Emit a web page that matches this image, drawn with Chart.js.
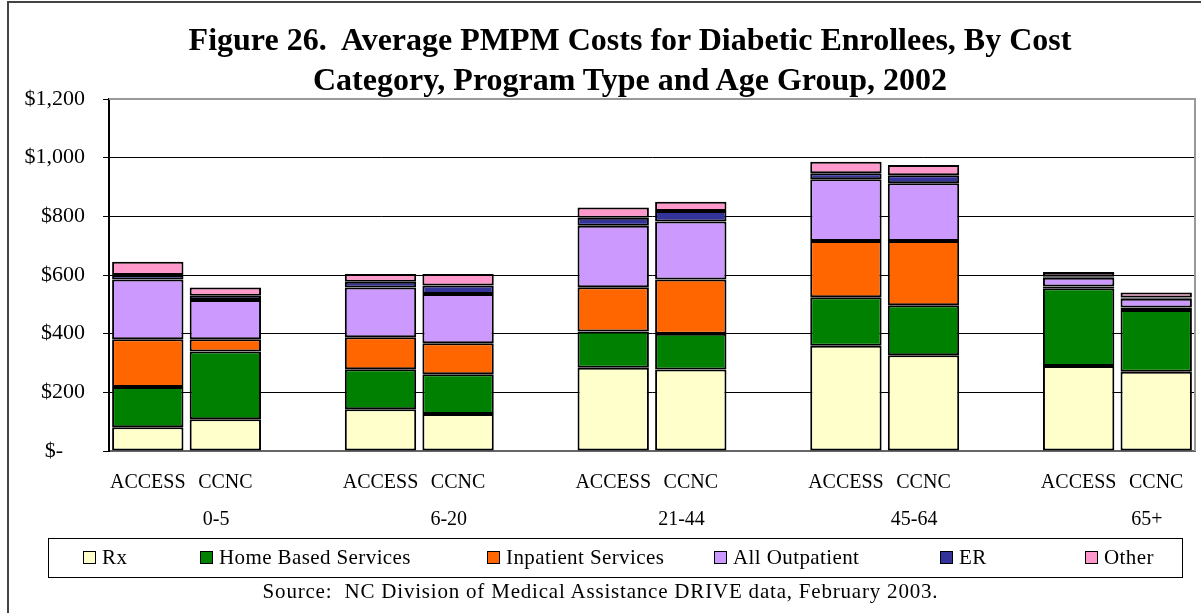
<!DOCTYPE html>
<html>
<head>
<meta charset="utf-8">
<script src="https://cdn.jsdelivr.net/npm/chart.js@4/dist/chart.umd.min.js"></script>
<style>
  html, body { margin: 0; padding: 0; background: #fff; }
  #wrap { position: relative; width: 1201px; height: 613px; overflow: hidden; font-family: "Liberation Serif", "Times New Roman", serif; }
  #frame { position: absolute; left: 7px; top: 1px; width: 1200px; height: 620px; border: 2px solid #444; box-sizing: border-box; }
  #title { position: absolute; left: 130px; width: 1000px; top: 19px; text-align: center; font-weight: bold; font-size: 32px; line-height: 40px; color: #000; }
  #chart { position: absolute; left: 0; top: 0; }
  #legend { position: absolute; left: 48px; top: 538px; width: 1135px; height: 40px; border: 1px solid #000; box-sizing: border-box; }
  .item { position: absolute; top: 0; height: 38px; line-height: 37px; font-size: 21px; letter-spacing: 0.4px; white-space: nowrap; }
  .box { display: inline-block; width: 11px; height: 11px; border: 1px solid #000; margin-right: 6px; vertical-align: 0px; }
  #source { position: absolute; left: 0; width: 1201px; top: 579px; text-align: center; font-size: 21px; letter-spacing: 0.8px; }
</style>
</head>
<body>
<div id="wrap">
  <div id="frame"></div>
  <canvas id="chart" width="1201" height="613"></canvas>
  <div id="title">Figure 26.&nbsp; Average PMPM Costs for Diabetic Enrollees, By Cost<br>Category, Program Type and Age Group, 2002</div>
  <div id="legend"></div>
  <div id="source">Source:&nbsp; NC Division of Medical Assistance DRIVE data, February 2003.</div>
</div>
<script>
// slots: ACCESS, CCNC, gap ... for each age group
const categories = ['ACCESS', 'CCNC', '', 'ACCESS', 'CCNC', '', 'ACCESS', 'CCNC', '', 'ACCESS', 'CCNC', '', 'ACCESS', 'CCNC'];
const ageGroups = ['0-5', '6-20', '21-44', '45-64', '65+'];

const rx         = [81, 108, null, 142, 126, null, 284, 278, null, 359, 326, null, 290, 270];
const homeBased  = [137, 231, null, 137, 136, null, 123, 122, null, 165, 171, null, 265, 211];
const inpatient  = [163, 42, null, 109, 105, null, 151, 185, null, 192, 219, null, 6, 8];
const outpatient = [204, 134, null, 169, 168, null, 210, 197, null, 210, 197, null, 30, 30];
const er         = [15, 14, null, 20, 29, null, 27, 36, null, 21, 27, null, 5, 4];
const other      = [45, 28, null, 26, 39, null, 35, 32, null, 39, 35, null, 14, 17];

const seriesNames = ['Rx', 'Home Based Services', 'Inpatient Services', 'All Outpatient', 'ER', 'Other'];
const seriesData = [rx, homeBased, inpatient, outpatient, er, other];
const seriesColors = ['#FFFFCC', '#008000', '#FF6600', '#CC99FF', '#333399', '#FF99CC'];
const legendLeft = [34, 151, 438, 665, 891, 1036];

const yTicks = [0, 200, 400, 600, 800, 1000, 1200];

function money(v) {
    if (v === 0) return '$-    ';
    return '$' + v.toLocaleString('en-US');
}

// age group labels under each pair of bars
const groupLabels = {
    id: 'groupLabels',
    afterDraw(chart) {
        const x = chart.scales.x;
        const ctx = chart.ctx;
        const slot = x.getPixelForValue(1) - x.getPixelForValue(0);
        ctx.save();
        ctx.font = '20px "Liberation Serif", serif';
        ctx.fillStyle = '#000';
        ctx.textAlign = 'center';
        ctx.textBaseline = 'middle';
        ageGroups.forEach((g, i) => {
            const px = x.getPixelForValue(i * 3) + slot * 0.88;
            ctx.fillText(g, px, 520);
        });
        ctx.restore();
    }
};

// gray frame on top and right of the plot area
const plotFrame = {
    id: 'plotFrame',
    afterDatasetsDraw(chart) {
        const a = chart.chartArea;
        const ctx = chart.ctx;
        ctx.save();
        ctx.strokeStyle = '#999';
        ctx.lineWidth = 2;
        ctx.beginPath();
        ctx.moveTo(a.left, a.top);
        ctx.lineTo(a.right, a.top);
        ctx.lineTo(a.right, a.bottom);
        ctx.stroke();
        ctx.restore();
    }
};

const chart = new Chart(document.getElementById('chart'), {
    type: 'bar',
    data: {
        labels: categories,
        datasets: seriesNames.map((name, i) => ({
            label: name,
            data: seriesData[i],
            backgroundColor: seriesColors[i],
            borderColor: '#000',
            borderWidth: 2,
            borderSkipped: false,
            categoryPercentage: 1.0,
            barPercentage: 0.92,
        })),
    },
    options: {
        responsive: false,
        animation: false,
        events: [],
        layout: { padding: { left: 0, right: 6, top: 99, bottom: 122 } },
        plugins: {
            legend: { display: false },
            title: { display: false },
            tooltip: { enabled: false },
        },
        scales: {
            x: {
                stacked: true,
                grid: { display: false },
                border: { display: true, color: '#666', width: 2 },
                ticks: {
                    color: '#000',
                    font: { family: '"Liberation Serif", serif', size: 20 },
                    padding: 12,
                    maxRotation: 0,
                    autoSkip: false,
                },
                afterFit(scale) { scale.height = 40; },
            },
            y: {
                stacked: true,
                min: 0,
                max: 1200,
                afterBuildTicks(scale) { scale.ticks = yTicks.map(v => ({ value: v })); },
                grid: {
                    color: '#000',
                    lineWidth: 1,
                    drawTicks: true,
                    tickLength: 6,
                },
                border: { display: true, color: '#000', width: 2 },
                ticks: {
                    color: '#000',
                    font: { family: '"Liberation Serif", serif', size: 22 },
                    padding: 18,
                    callback: v => money(v),
                },
                afterFit(scale) { scale.width = 109; },
            },
        },
    },
    plugins: [groupLabels, plotFrame],
});

// legend built from the series
const legend = document.getElementById('legend');
seriesNames.forEach((name, i) => {
    const item = document.createElement('div');
    item.className = 'item';
    item.style.left = legendLeft[i] + 'px';
    const box = document.createElement('span');
    box.className = 'box';
    box.style.background = seriesColors[i];
    item.appendChild(box);
    item.appendChild(document.createTextNode(name));
    legend.appendChild(item);
});
</script>
</body>
</html>
